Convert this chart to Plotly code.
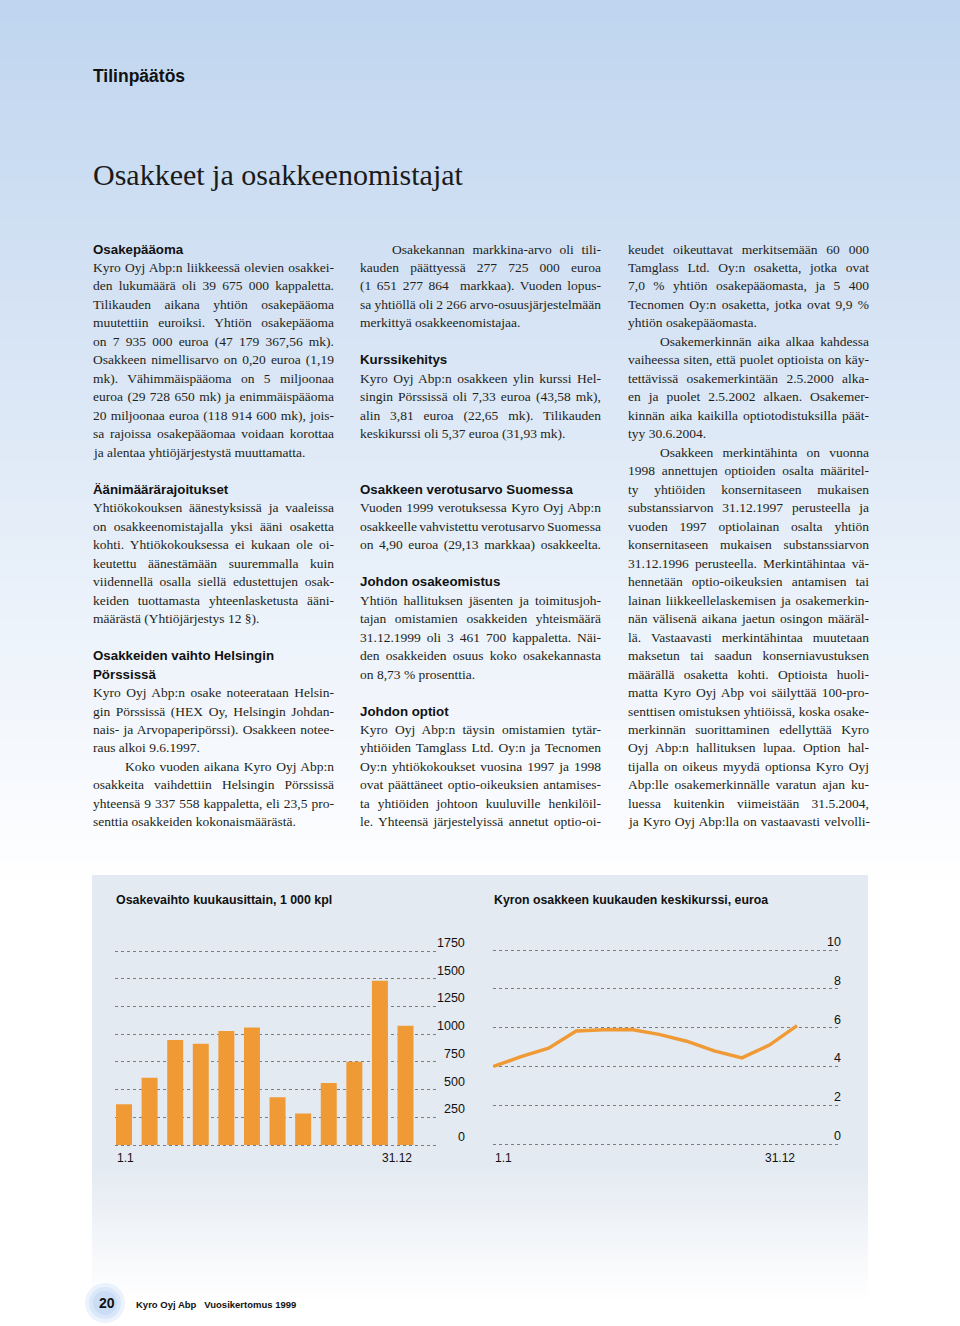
import json
import plotly.graph_objects as go

W, H = 960, 1326

# ---------------- data ----------------
months = list(range(1, 13))
volume_k = [367, 607, 947, 914, 1028, 1061, 430, 283, 559, 752, 1482, 1076]
avg_price_eur = [4.0, 4.5, 4.94, 5.82, 5.89, 5.9, 5.65, 5.3, 4.8, 4.44, 5.1, 6.1]
bar_ticks = [0, 250, 500, 750, 1000, 1250, 1500, 1750]
line_ticks = [0, 2, 4, 6, 8, 10]
x_labels = ["1.1", "31.12"]
bar_title = "Osakevaihto kuukausittain, 1 000 kpl"
line_title = "Kyron osakkeen kuukauden keskikurssi, euroa"

ORANGE = "#f09a36"
TEXT = "#231f20"
SERIF = "Liberation Serif, Times New Roman, serif"
SANS = "Liberation Sans, Arial, sans-serif"


def px(x):
    return x / W


def py(y):
    return 1 - y / H


fig = go.Figure()

fig.add_trace(go.Bar(x=months, y=volume_k, marker=dict(color=ORANGE, line=dict(width=0)),
                     xaxis="x", yaxis="y", width=0.625, showlegend=False))
fig.add_trace(go.Scatter(x=months, y=avg_price_eur, mode="lines",
                         line=dict(color=ORANGE, width=3.5), xaxis="x2", yaxis="y2",
                         showlegend=False))

shapes = []
# page background gradient
top = (192, 213, 239)
N = 45
for i in range(N):
    y0 = i * 20
    y1 = y0 + 21
    t = i / (N - 1)
    c = tuple(int(round(top[k] + (255 - top[k]) * t)) for k in range(3))
    shapes.append(dict(type="rect", xref="paper", yref="paper", x0=0, x1=1,
                       y0=py(y1), y1=py(y0), fillcolor="rgb(%d,%d,%d)" % c,
                       line=dict(width=0), layer="below"))
# chart panel
panel = (228, 234, 242)
shapes.append(dict(type="rect", xref="paper", yref="paper", x0=px(92), x1=px(868),
                   y0=py(1168), y1=py(875), fillcolor="rgb(%d,%d,%d)" % panel,
                   line=dict(width=0), layer="below"))
M = 26
for i in range(M):
    y0 = 1168 + i * 5
    t = (i + 1) / (M + 1)
    c = tuple(int(round(panel[k] + (255 - panel[k]) * t)) for k in range(3))
    shapes.append(dict(type="rect", xref="paper", yref="paper", x0=px(92), x1=px(868),
                       y0=py(y0 + 6), y1=py(y0), fillcolor="rgb(%d,%d,%d)" % c,
                       line=dict(width=0), layer="below"))
# page number blob
for r, col in [(20, "rgba(200,220,245,0.35)"), (16, "rgba(200,220,245,0.5)"), (12, "rgba(195,217,244,0.7)")]:
    shapes.append(dict(type="circle", xref="paper", yref="paper",
                       x0=px(105 - r), x1=px(105 + r), y0=py(1303 + r), y1=py(1303 - r),
                       fillcolor=col, line=dict(width=0), layer="below"))

ann = []
justify = []


def txt(x, y, s, size, family=SERIF, color=TEXT, bold=False, anchor="left"):
    if bold:
        s = "<b>" + s + "</b>"
    ann.append(dict(x=px(x), y=py(y), xref="paper", yref="paper", text=s, showarrow=False,
                    xanchor=anchor, yanchor="middle", align="left",
                    font=dict(size=size, family=family, color=color)))
    return len(ann) - 1


txt(91, 76, "Tilinpäätös", 17.5, SANS, "#111111", True)
txt(91, 175, "Osakkeet ja osakkeenomistajat", 30, SERIF, "#1a1a1a")

ROW0 = 249
STEP = 18.48
BODY = 13.5
HEAD = 13.3
IND = 32
COLW = 241

# kinds: H heading, J justified, I indented+justified, L last line of paragraph
col1 = [
    ("H", "Osakepääoma"),
    ("J", "Kyro Oyj Abp:n liikkeessä olevien osakkei-"),
    ("J", "den lukumäärä oli 39 675 000 kappaletta."),
    ("J", "Tilikauden aikana yhtiön osakepääoma"),
    ("J", "muutettiin euroiksi. Yhtiön osakepääoma"),
    ("J", "on 7 935 000 euroa (47 179 367,56 mk)."),
    ("J", "Osakkeen nimellisarvo on 0,20 euroa (1,19"),
    ("J", "mk). Vähimmäispääoma on 5 miljoonaa"),
    ("J", "euroa (29 728 650 mk) ja enimmäispääoma"),
    ("J", "20 miljoonaa euroa (118 914 600 mk), jois-"),
    ("J", "sa rajoissa osakepääomaa voidaan korottaa"),
    ("L", "ja alentaa yhtiöjärjestystä muuttamatta."),
    ("", ""),
    ("H", "Äänimäärärajoitukset"),
    ("J", "Yhtiökokouksen äänestyksissä ja vaaleissa"),
    ("J", "on osakkeenomistajalla yksi ääni osaketta"),
    ("J", "kohti. Yhtiökokouksessa ei kukaan ole oi-"),
    ("J", "keutettu äänestämään suuremmalla kuin"),
    ("J", "viidennellä osalla siellä edustettujen osak-"),
    ("J", "keiden tuottamasta yhteenlasketusta ääni-"),
    ("L", "määrästä (Yhtiöjärjestys 12 §)."),
    ("", ""),
    ("H", "Osakkeiden vaihto Helsingin"),
    ("H", "Pörssissä"),
    ("J", "Kyro Oyj Abp:n osake noteerataan Helsin-"),
    ("J", "gin Pörssissä (HEX Oy, Helsingin Johdan-"),
    ("J", "nais- ja Arvopaperipörssi). Osakkeen notee-"),
    ("L", "raus alkoi 9.6.1997."),
    ("I", "Koko vuoden aikana Kyro Oyj Abp:n"),
    ("J", "osakkeita vaihdettiin Helsingin Pörssissä"),
    ("J", "yhteensä 9 337 558 kappaletta, eli 23,5 pro-"),
    ("L", "senttia osakkeiden kokonaismäärästä."),
]

col2 = [
    ("I", "Osakekannan markkina-arvo oli tili-"),
    ("J", "kauden päättyessä 277 725 000 euroa"),
    ("J", "(1 651 277 864  markkaa). Vuoden lopus-"),
    ("J", "sa yhtiöllä oli 2 266 arvo-osuusjärjestelmään"),
    ("L", "merkittyä osakkeenomistajaa."),
    ("", ""),
    ("H", "Kurssikehitys"),
    ("J", "Kyro Oyj Abp:n osakkeen ylin kurssi Hel-"),
    ("J", "singin Pörssissä oli 7,33 euroa (43,58 mk),"),
    ("J", "alin 3,81 euroa (22,65 mk). Tilikauden"),
    ("L", "keskikurssi oli 5,37 euroa (31,93 mk)."),
    ("", ""),
    ("", ""),
    ("H", "Osakkeen verotusarvo Suomessa"),
    ("J", "Vuoden 1999 verotuksessa Kyro Oyj Abp:n"),
    ("J", "osakkeelle vahvistettu verotusarvo Suomessa"),
    ("J", "on 4,90 euroa (29,13 markkaa) osakkeelta."),
    ("", ""),
    ("H", "Johdon osakeomistus"),
    ("J", "Yhtiön hallituksen jäsenten ja toimitusjoh-"),
    ("J", "tajan omistamien osakkeiden yhteismäärä"),
    ("J", "31.12.1999 oli 3 461 700 kappaletta. Näi-"),
    ("J", "den osakkeiden osuus koko osakekannasta"),
    ("L", "on 8,73 % prosenttia."),
    ("", ""),
    ("H", "Johdon optiot"),
    ("J", "Kyro Oyj Abp:n täysin omistamien tytär-"),
    ("J", "yhtiöiden Tamglass Ltd. Oy:n ja Tecnomen"),
    ("J", "Oy:n yhtiökokoukset vuosina 1997 ja 1998"),
    ("J", "ovat päättäneet optio-oikeuksien antamises-"),
    ("J", "ta yhtiöiden johtoon kuuluville henkilöil-"),
    ("J", "le. Yhteensä järjestelyissä annetut optio-oi-"),
]

col3 = [
    ("J", "keudet oikeuttavat merkitsemään 60 000"),
    ("J", "Tamglass Ltd. Oy:n osaketta, jotka ovat"),
    ("J", "7,0 % yhtiön osakepääomasta, ja 5 400"),
    ("J", "Tecnomen Oy:n osaketta, jotka ovat 9,9 %"),
    ("L", "yhtiön osakepääomasta."),
    ("I", "Osakemerkinnän aika alkaa kahdessa"),
    ("J", "vaiheessa siten, että puolet optioista on käy-"),
    ("J", "tettävissä osakemerkintään 2.5.2000 alka-"),
    ("J", "en ja puolet 2.5.2002 alkaen. Osakemer-"),
    ("J", "kinnän aika kaikilla optiotodistuksilla päät-"),
    ("L", "tyy 30.6.2004."),
    ("I", "Osakkeen merkintähinta on vuonna"),
    ("J", "1998 annettujen optioiden osalta määritel-"),
    ("J", "ty yhtiöiden konsernitaseen mukaisen"),
    ("J", "substanssiarvon 31.12.1997 perusteella ja"),
    ("J", "vuoden 1997 optiolainan osalta yhtiön"),
    ("J", "konsernitaseen mukaisen substanssiarvon"),
    ("J", "31.12.1996 perusteella. Merkintähintaa vä-"),
    ("J", "hennetään optio-oikeuksien antamisen tai"),
    ("J", "lainan liikkeellelaskemisen ja osakemerkin-"),
    ("J", "nän välisenä aikana jaetun osingon määräl-"),
    ("J", "lä. Vastaavasti merkintähintaa muutetaan"),
    ("J", "maksetun tai saadun konserniavustuksen"),
    ("J", "määrällä osaketta kohti. Optioista huoli-"),
    ("J", "matta Kyro Oyj Abp voi säilyttää 100-pro-"),
    ("J", "senttisen omistuksen yhtiöissä, koska osake-"),
    ("J", "merkinnän suorittaminen edellyttää Kyro"),
    ("J", "Oyj Abp:n hallituksen lupaa. Option hal-"),
    ("J", "tijalla on oikeus myydä optionsa Kyro Oyj"),
    ("J", "Abp:lle osakemerkinnälle varatun ajan ku-"),
    ("J", "luessa kuitenkin viimeistään 31.5.2004,"),
    ("J", "ja Kyro Oyj Abp:lla on vastaavasti velvolli-"),
]

for x0, col in [(91, col1), (358, col2), (626, col3)]:
    for i, (kind, s) in enumerate(col):
        if not s:
            continue
        y = ROW0 + i * STEP
        if kind == "H":
            txt(x0, y, s, HEAD, SANS, "#111111", True)
        elif kind == "I":
            justify.append([txt(x0 + IND, y, s, BODY), COLW - IND])
        elif kind == "J":
            justify.append([txt(x0, y, s, BODY), COLW])
        else:
            txt(x0, y, s, BODY)

# chart titles
txt(114, 900, bar_title, 12.4, SANS, "#111111", True)
txt(492, 900, line_title, 12.3, SANS, "#111111", True)

# tick label annotations
for v in bar_ticks:
    ann.append(dict(x=px(467), y=v, xref="paper", yref="y", text=str(v), showarrow=False,
                    xanchor="right", yanchor="bottom", yshift=-1,
                    font=dict(size=12.5, family=SANS, color="#111111")))
for v in line_ticks:
    ann.append(dict(x=px(843), y=v, xref="paper", yref="y2", text=str(v), showarrow=False,
                    xanchor="right", yanchor="bottom", yshift=-1,
                    font=dict(size=12.5, family=SANS, color="#111111")))
# x labels
ann.append(dict(x=months[0] - 0.35, y=py(1158), xref="x", yref="paper", text=x_labels[0],
                showarrow=False, xanchor="left", yanchor="middle",
                font=dict(size=12, family=SANS, color="#111111")))
ann.append(dict(x=months[-1] + 0.35, y=py(1158), xref="x", yref="paper", text=x_labels[1],
                showarrow=False, xanchor="right", yanchor="middle",
                font=dict(size=12, family=SANS, color="#111111")))
ann.append(dict(x=months[0], y=py(1158), xref="x2", yref="paper", text=x_labels[0],
                showarrow=False, xanchor="left", yanchor="middle",
                font=dict(size=12, family=SANS, color="#111111")))
ann.append(dict(x=months[-1], y=py(1158), xref="x2", yref="paper", text=x_labels[1],
                showarrow=False, xanchor="right", yanchor="middle",
                font=dict(size=12, family=SANS, color="#111111")))

# footer
txt(97, 1303, "20", 14, SANS, "#111111", True)
txt(134, 1304, "Kyro Oyj Abp&nbsp;&nbsp;&nbsp;Vuosikertomus 1999", 9.5, SANS, "#111111", True)

# axes geometry
b_pu = 194 / 1750.0
b_lo, b_hi = -30, 1780
l_pu = 194 / 10.0
l_lo, l_hi = -0.2, 10.2

grid = dict(showgrid=True, gridcolor="#7d7d7d", griddash="dot", gridwidth=1,
            zeroline=False, showline=False, ticks="", showticklabels=False)

fig.update_layout(
    width=W, height=H, margin=dict(l=0, r=0, t=0, b=0),
    paper_bgcolor="white", plot_bgcolor="rgba(0,0,0,0)",
    showlegend=False, bargap=0.375,
    xaxis=dict(domain=[px(115), px(437)], range=[0.648, 13.23], showgrid=False,
               zeroline=False, showline=False, showticklabels=False, ticks="", fixedrange=True),
    yaxis=dict(domain=[py(1145 - b_lo * b_pu), py(951 - (b_hi - 1750) * b_pu)],
               range=[b_lo, b_hi], tickvals=bar_ticks, anchor="x", **grid),
    xaxis2=dict(domain=[px(493), px(839)], range=[0.985, 13.52], showgrid=False,
                zeroline=False, showline=False, showticklabels=False, ticks="", anchor="y2"),
    yaxis2=dict(domain=[py(1144 - l_lo * l_pu), py(950 - (l_hi - 10) * l_pu)],
                range=[l_lo, l_hi], tickvals=line_ticks, anchor="x2", **grid),
    shapes=shapes,
    annotations=ann,
)

js = """
document.body.style.margin='0px';
document.body.style.overflow='hidden';
var JL = %s;
function justifyLines(){
  JL.forEach(function(p){
    var t = document.querySelector('g.annotation[data-index="'+p[0]+'"] text.annotation-text');
    if(!t) return;
    t.style.wordSpacing = '0px';
    var n = (t.textContent.match(/[ \\u00a0]/g)||[]).length;
    if(!n) return;
    var w = t.getComputedTextLength();
    t.style.wordSpacing = ((p[1]-w)/n) + 'px';
  });
}
justifyLines();
var gdj = document.getElementById('{plot_id}');
if (gdj && gdj.on) { gdj.on('plotly_afterplot', justifyLines); }
""" % json.dumps(justify)

fig.write_html("out.html", post_script=js, config={"displayModeBar": False})
